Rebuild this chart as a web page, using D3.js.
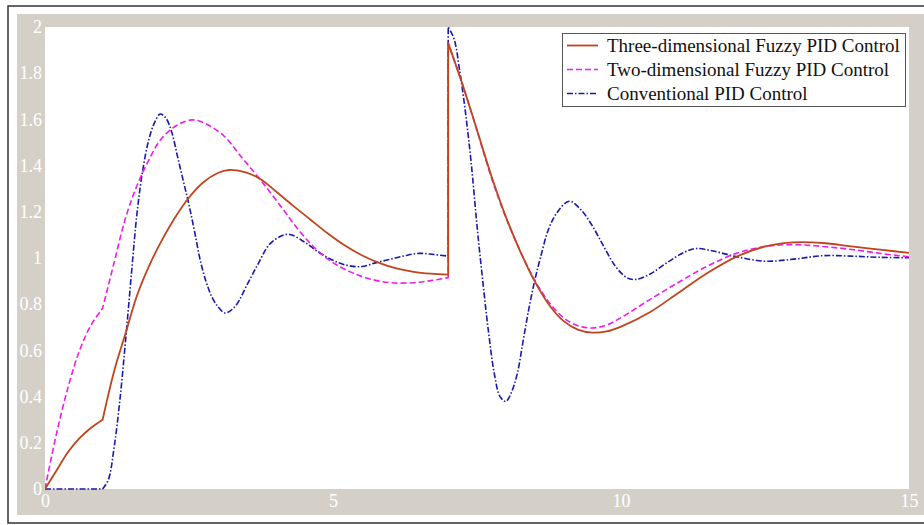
<!DOCTYPE html>
<html>
<head>
<meta charset="utf-8">
<script src="https://cdn.jsdelivr.net/npm/d3@7"></script>
<style>
  html, body { margin: 0; padding: 0; background: #fff; }
  svg { display: block; }
</style>
</head>
<body>
<svg id="chart" width="924" height="525"></svg>
<script>
// step responses, each series split into segments (kink at t=1, setpoint jump at t=7)
const threeD = [
  [[0, 0], [0.2, 0.08], [0.4, 0.16], [0.6, 0.22], [0.8, 0.265], [1.0, 0.30]],
  [[1.0, 0.30], [1.2, 0.51], [1.4, 0.675], [1.6, 0.84], [1.8, 0.962], [2.0, 1.063], [2.25, 1.172],
   [2.5, 1.262], [2.75, 1.328], [3.0, 1.368], [3.2, 1.381], [3.5, 1.37], [3.75, 1.34], [4.0, 1.29],
   [4.3, 1.228], [4.6, 1.168], [4.9, 1.108], [5.2, 1.055], [5.5, 1.012], [5.8, 0.979], [6.1, 0.955],
   [6.4, 0.94], [6.7, 0.932], [7.0, 0.928]],
  [[7.0, 1.93], [7.25, 1.75], [7.5, 1.554], [7.75, 1.355], [8.0, 1.179], [8.25, 1.029], [8.5, 0.90],
   [8.75, 0.798], [9.0, 0.728], [9.25, 0.69], [9.5, 0.677], [9.75, 0.682], [10.0, 0.703], [10.5, 0.765],
   [11.0, 0.85], [11.5, 0.935], [12.0, 1.005], [12.5, 1.05], [13.0, 1.068], [13.5, 1.065], [14.0, 1.05],
   [14.5, 1.036], [15.0, 1.022]]
];

const twoD = [
  [[0, 0], [0.2, 0.24], [0.4, 0.44], [0.6, 0.60], [0.8, 0.71], [1.0, 0.782]],
  [[1.0, 0.782], [1.2, 0.98], [1.4, 1.175], [1.6, 1.315], [1.8, 1.423], [2.0, 1.51], [2.25, 1.568],
   [2.55, 1.598], [2.8, 1.58], [3.1, 1.53], [3.4, 1.44], [3.75, 1.335], [4.1, 1.222], [4.4, 1.122],
   [4.7, 1.04], [5.0, 0.98], [5.3, 0.94], [5.6, 0.912], [6.0, 0.893], [6.4, 0.893], [6.7, 0.902],
   [7.0, 0.915]],
  [[7.0, 1.93], [7.25, 1.75], [7.5, 1.552], [7.75, 1.348], [8.0, 1.176], [8.25, 1.03], [8.5, 0.905],
   [8.75, 0.808], [9.0, 0.742], [9.25, 0.707], [9.5, 0.697], [9.75, 0.71], [10.0, 0.742], [10.5, 0.82],
   [11.0, 0.895], [11.5, 0.965], [12.0, 1.02], [12.5, 1.05], [13.0, 1.058], [13.5, 1.05], [14.0, 1.037],
   [14.5, 1.02], [15.0, 1.005]]
];

const conventional = [
  [[0, 0], [1.0, 0]],
  [[1.0, 0], [1.1, 0.04], [1.2, 0.18], [1.3, 0.385], [1.4, 0.646], [1.5, 0.93], [1.6, 1.20], [1.7, 1.385],
   [1.8, 1.51], [1.9, 1.585], [2.0, 1.623], [2.1, 1.605], [2.2, 1.545], [2.3, 1.44], [2.4, 1.335],
   [2.5, 1.23], [2.6, 1.11], [2.7, 0.985], [2.8, 0.895], [2.9, 0.83], [3.0, 0.79], [3.13, 0.762],
   [3.3, 0.79], [3.5, 0.88], [3.7, 0.975], [3.9, 1.06], [4.1, 1.095], [4.25, 1.102], [4.5, 1.07],
   [4.75, 1.025], [5.0, 0.99], [5.25, 0.968], [5.5, 0.963], [5.75, 0.98], [6.0, 0.995], [6.25, 1.01],
   [6.5, 1.02], [6.75, 1.015], [7.0, 1.008]],
  [[7.0, 2.0], [7.1, 1.95], [7.2, 1.81], [7.3, 1.63], [7.4, 1.41], [7.5, 1.14], [7.6, 0.90], [7.7, 0.68],
   [7.8, 0.50], [7.9, 0.40], [8.0, 0.379], [8.1, 0.42], [8.2, 0.50], [8.3, 0.64], [8.4, 0.78], [8.5, 0.90],
   [8.6, 1.0], [8.75, 1.13], [8.9, 1.2], [9.1, 1.246], [9.3, 1.21], [9.5, 1.14], [9.7, 1.05], [9.9, 0.965],
   [10.1, 0.915], [10.25, 0.907], [10.5, 0.93], [10.8, 0.98], [11.1, 1.025], [11.3, 1.041], [11.6, 1.03],
   [12.0, 1.006], [12.5, 0.986], [13.0, 0.995], [13.5, 1.01], [14.0, 1.008], [14.5, 1.003], [15.0, 1.001]]
];

const seriesNames = ["Three-dimensional Fuzzy PID Control", "Two-dimensional Fuzzy PID Control", "Conventional PID Control"];
const xTicks = [0, 5, 10, 15];
const yTicks = [0, 0.2, 0.4, 0.6, 0.8, 1, 1.2, 1.4, 1.6, 1.8, 2];

(function () {
  const svg = d3.select("#chart");
  const GRAY = "#d4d0c8";
  const TICK_FONT = "'Liberation Serif', 'Times New Roman', serif";

  // plot box in pixels
  const P = { left: 45, right: 909, top: 27, bottom: 489 };

  const x = d3.scaleLinear().domain([0, 15]).range([P.left, P.right]);
  const y = d3.scaleLinear().domain([0, 2]).range([P.bottom, P.top]);

  // outer frame, gray panel, white plot area
  svg.append("rect").attr("x", 8).attr("y", 6).attr("width", 940).attr("height", 517)
    .attr("fill", "#fff").attr("stroke", "#333").attr("stroke-width", 1.5);
  svg.append("rect").attr("x", 17).attr("y", 14).attr("width", 930).attr("height", 501)
    .attr("fill", GRAY);
  svg.append("rect").attr("x", P.left).attr("y", P.top)
    .attr("width", P.right - P.left).attr("height", P.bottom - P.top).attr("fill", "#fff");

  svg.append("clipPath").attr("id", "plot-clip")
    .append("rect").attr("x", P.left).attr("y", P.top - 1)
    .attr("width", P.right - P.left).attr("height", P.bottom - P.top + 2);

  // axes: white serif labels on the gray panel, no lines
  const yAxis = svg.append("g").attr("transform", `translate(${P.left},0)`)
    .call(d3.axisLeft(y).tickValues(yTicks).tickSize(0).tickPadding(3).tickFormat(d3.format("~g")));
  const xAxis = svg.append("g").attr("transform", `translate(0,${P.bottom})`)
    .call(d3.axisBottom(x).tickValues(xTicks).tickSize(0).tickPadding(5).tickFormat(d3.format("~g")));
  [xAxis, yAxis].forEach(a => {
    a.select(".domain").remove();
    a.selectAll("text").attr("fill", "#fff").style("font-family", TICK_FONT).style("font-size", "18px");
  });

  // curves
  const line = d3.line().x(d => x(d[0])).y(d => y(d[1])).curve(d3.curveCatmullRom.alpha(0.5));
  const pathOf = segs => segs.map((s, i) => i ? line(s).replace(/^M/, "L") : line(s)).join("");

  const styles = [
    { data: threeD, color: "#c0441c", width: 1.8, dash: null },
    { data: twoD, color: "#ee1cee", width: 1.6, dash: "6,3" },
    { data: conventional, color: "#1818b0", width: 1.6, dash: "6,2,1.5,2" }
  ];

  const curves = svg.append("g").attr("clip-path", "url(#plot-clip)");
  // draw conventional first so the fuzzy curves sit on top
  styles.slice().reverse().forEach(s => {
    curves.append("path")
      .attr("d", pathOf(s.data))
      .attr("fill", "none")
      .attr("stroke", s.color)
      .attr("stroke-width", s.width)
      .attr("stroke-dasharray", s.dash)
      .attr("stroke-linejoin", "round");
  });

  // legend
  const lg = svg.append("g");
  lg.append("rect").attr("x", 562.5).attr("y", 33.5).attr("width", 343).attr("height", 73)
    .attr("fill", "#fff").attr("stroke", "#555").attr("stroke-width", 1);
  const rowY = [45.5, 69.5, 93.5];
  styles.forEach((s, i) => {
    lg.append("line").attr("x1", 567).attr("x2", 598).attr("y1", rowY[i]).attr("y2", rowY[i])
      .attr("stroke", s.color).attr("stroke-width", s.width).attr("stroke-dasharray", s.dash);
    lg.append("text").attr("x", 607).attr("y", rowY[i]).attr("dy", "0.34em")
      .style("font-family", TICK_FONT).style("font-size", "19px").attr("fill", "#111")
      .text(seriesNames[i]);
  });
})();
</script>
</body>
</html>
